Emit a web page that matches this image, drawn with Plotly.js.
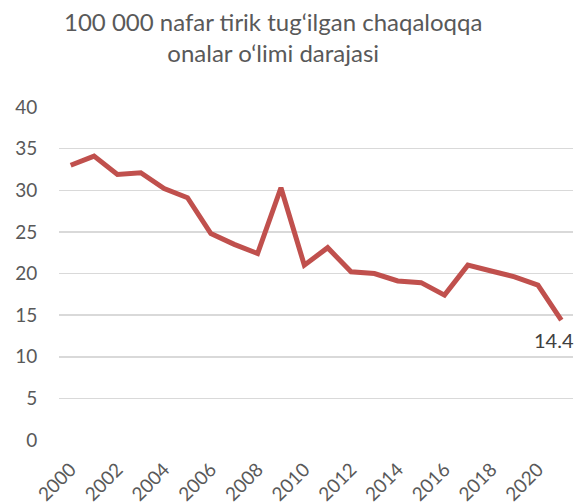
<!DOCTYPE html>
<html><head><meta charset="utf-8">
<script src="https://cdn.plot.ly/plotly-3.0.1.min.js"></script>
<style>body{margin:0;}#chart{width:578px;height:504px;}</style>
</head><body><div id="chart"></div>
<script>
const years = ["2000","2001","2002","2003","2004","2005","2006","2007","2008","2009","2010","2011","2012","2013","2014","2015","2016","2017","2018","2019","2020","2021"];
const values = [33.0,34.1,31.9,32.1,30.2,29.1,24.8,23.5,22.4,30.3,21.0,23.1,20.2,20.0,19.1,18.9,17.4,21.0,20.3,19.6,18.6,14.4];
const tickYears = ["2000","2002","2004","2006","2008","2010","2012","2014","2016","2018","2020"];
const titleText = "100 000 nafar tirik tug‘ilgan chaqaloqqa<br>onalar o‘limi darajasi";
const lastIdx = values.length - 1;

const font = "Lato, 'Open Sans', sans-serif";
Plotly.newPlot("chart", [{
  x: years, y: values, type: "scatter", mode: "lines",
  line: {color: "#C0504D", width: 5},
  cliponaxis: false, hoverinfo: "none"
}], {
  width: 578, height: 504,
  margin: {l: 59, r: 5, t: 107, b: 64},
  paper_bgcolor: "#ffffff", plot_bgcolor: "#ffffff",
  showlegend: false,
  annotations: [
    {text: titleText, xref: "paper", yref: "paper", x: 0.417, y: 1.305, xanchor: "center", yanchor: "top",
      showarrow: false, font: {family: font, size: 24, color: "#595959"}},
    {text: values[lastIdx].toFixed(1), x: lastIdx, y: values[lastIdx], xref: "x", yref: "y",
      xanchor: "right", yanchor: "top", xshift: 15, yshift: -6, showarrow: false,
      font: {family: font, size: 20, color: "#404040"}}
  ],
  xaxis: {type: "category", range: [-0.5, 21.5], tickmode: "array", tickvals: tickYears, ticktext: tickYears,
    tickangle: -45, tickfont: {family: font, size: 19, color: "#595959"}, showgrid: false, zeroline: false,
    showline: false, ticks: "outside", ticklen: 10, tickcolor: "rgba(0,0,0,0)"},
  yaxis: {range: [0, 40], dtick: 5, tickfont: {family: font, size: 19, color: "#595959"},
    gridcolor: "#d9d9d9", gridwidth: 1.5, zeroline: false, showline: false, ticks: "outside", ticklen: 17, tickcolor: "rgba(0,0,0,0)"}
}, {staticPlot: true});
</script></body></html>
